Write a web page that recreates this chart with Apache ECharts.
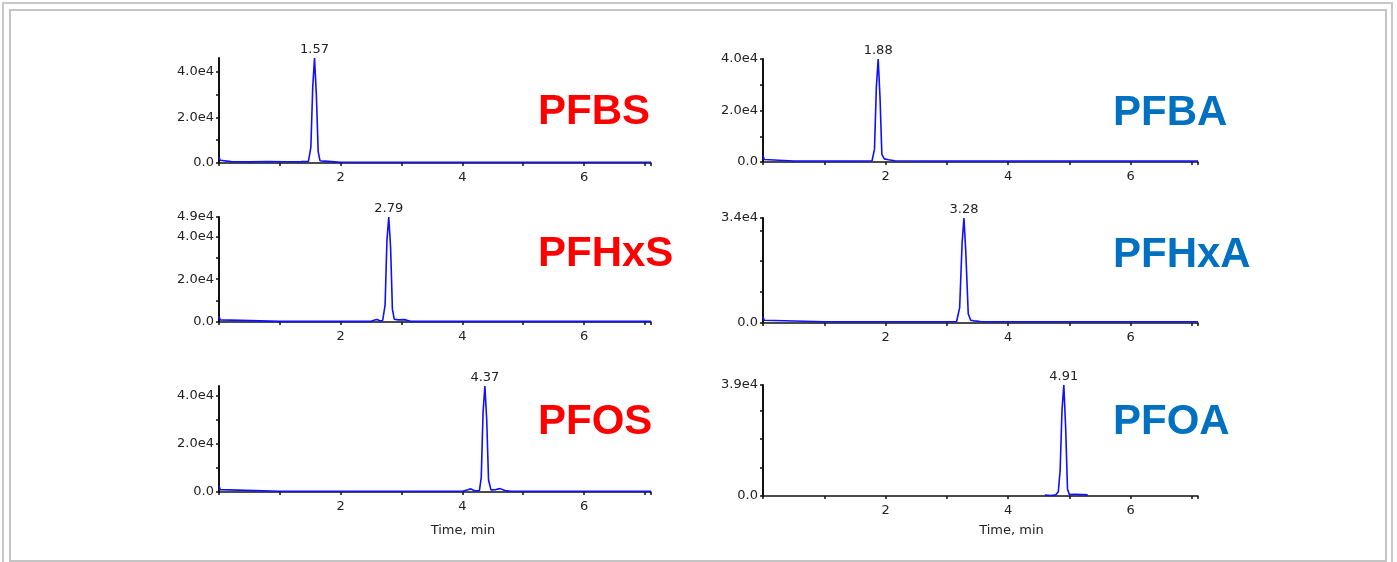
<!DOCTYPE html>
<html>
<head>
<meta charset="utf-8">
<title>PFAS chromatograms</title>
<script src="https://cdn.jsdelivr.net/npm/echarts@6.0.0/dist/echarts.min.js"></script>
<style>
html,body{margin:0;padding:0;background:#fff;}
#main{width:1397px;height:562px;}
</style>
</head>
<body>
<div id="main"></div>
<script>
// compounds, in panel order (left column sulfonates, right column acids)
var names = ['PFBS', 'PFBA', 'PFHxS', 'PFHxA', 'PFOS', 'PFOA'];
var peakRT = [1.57, 1.88, 2.79, 3.28, 4.37, 4.91];

// intensity axes
var yMax = [46000, 40000, 49000, 34000, 44000, 39000];
var yLabels = [
  [0, 20000, 40000],
  [0, 20000, 40000],
  [0, 20000, 40000, 49000],
  [0, 34000],
  [0, 20000, 40000],
  [0, 39000]
];
var yTicks = [
  [0, 10000, 20000, 30000, 40000],
  [0, 10000, 20000, 30000, 40000],
  [0, 10000, 20000, 30000, 40000, 49000],
  [0, 10000, 20000, 30000, 34000],
  [0, 10000, 20000, 30000, 40000],
  [0, 10000, 20000, 30000, 39000]
];

// time axis
var xLabels = [2, 4, 6];
var xMax = 7.1;

// traces: time (min) / intensity (cps)
var pfbsT = [0, 0.02, 0.05, 0.2, 0.5, 0.8, 1.1, 1.35, 1.47, 1.51, 1.54, 1.57, 1.60, 1.63, 1.66, 1.72, 1.80, 1.90, 2.0, 3.0, 4.0, 5.0, 6.0, 7.1];
var pfbsI = [2500, 1200, 700, 600, 500, 650, 550, 600, 700, 7000, 33000, 46000, 30000, 5000, 1000, 800, 700, 500, 300, 300, 300, 300, 300, 300];

var pfbaT = [0, 0.02, 0.05, 0.5, 1.0, 1.5, 1.78, 1.82, 1.85, 1.88, 1.91, 1.94, 1.98, 2.05, 2.15, 3.0, 4.0, 5.0, 6.0, 7.1];
var pfbaI = [2500, 1000, 400, 400, 400, 400, 500, 5000, 29000, 40000, 25000, 3000, 1200, 900, 500, 400, 400, 400, 400, 400];

var pfhxsT = [0, 0.02, 0.05, 1.0, 2.0, 2.5, 2.56, 2.6, 2.64, 2.69, 2.73, 2.76, 2.79, 2.82, 2.85, 2.88, 2.95, 3.05, 3.1, 3.15, 4.0, 5.0, 6.0, 7.1];
var pfhxsI = [2500, 1000, 400, 300, 300, 300, 900, 1200, 600, 700, 8000, 38000, 49000, 35000, 6000, 1300, 1000, 1100, 700, 300, 300, 300, 300, 300];

var pfhxaT = [0, 0.02, 0.05, 1.0, 2.0, 3.0, 3.16, 3.21, 3.25, 3.28, 3.31, 3.35, 3.39, 3.45, 3.55, 3.65, 4.0, 5.0, 6.0, 7.1];
var pfhxaI = [2000, 900, 400, 400, 400, 400, 500, 5000, 26000, 34000, 23000, 3000, 900, 700, 500, 400, 400, 400, 400, 400];

var pfosT = [0, 0.02, 0.05, 1.0, 2.0, 3.0, 4.0, 4.09, 4.14, 4.2, 4.28, 4.31, 4.34, 4.37, 4.40, 4.43, 4.47, 4.55, 4.62, 4.7, 4.8, 5.0, 6.0, 7.1];
var pfosI = [2500, 1000, 400, 300, 300, 300, 300, 900, 1300, 500, 600, 6000, 33000, 44000, 30000, 5000, 900, 1000, 1400, 600, 300, 300, 300, 300];

var pfoaT = [4.6, 4.7, 4.78, 4.82, 4.85, 4.88, 4.91, 4.94, 4.97, 5.0, 5.1, 5.2, 5.3];
var pfoaI = [300, 200, 400, 1500, 9000, 30000, 39000, 24000, 2500, 500, 600, 500, 400];

var traceT = [pfbsT, pfbaT, pfhxsT, pfhxaT, pfosT, pfoaT];
var traceI = [pfbsI, pfbaI, pfhxsI, pfhxaI, pfosI, pfoaI];

// layout of the six panels
var panels = [
  {left: 219, top: 58, width: 432, height: 105, nameX: 538, nameY: 112, color: '#ff0000'},
  {left: 763, top: 59, width: 435, height: 103, nameX: 1113, nameY: 113, color: '#0070c0'},
  {left: 219, top: 217, width: 432, height: 105, nameX: 538, nameY: 254, color: '#ff0000'},
  {left: 763, top: 218, width: 435, height: 105, nameX: 1113, nameY: 255, color: '#0070c0'},
  {left: 219, top: 386, width: 432, height: 106, nameX: 538, nameY: 422, color: '#ff0000'},
  {left: 763, top: 385, width: 435, height: 111, nameX: 1113, nameY: 422, color: '#0070c0'}
];

var txt = '#222';
var ff = 'DejaVu Sans';

function fmtY(v) {
  if (v === 0) return '0.0';
  return (v / 10000).toFixed(1) + 'e4';
}

var grid = [], xAxis = [], yAxis = [], series = [];
var graphic = [
  {type: 'rect', shape: {x: 3, y: 3, width: 1389, height: 640}, style: {fill: 'none', stroke: '#c8c8c8', lineWidth: 2}},
  {type: 'rect', shape: {x: 10, y: 10, width: 1376, height: 551}, style: {fill: 'none', stroke: '#c4c4c4', lineWidth: 2}}
];

panels.forEach(function (p, i) {
  var bottomRow = i >= 4;
  grid.push({left: p.left, top: p.top, width: p.width, height: p.height, containLabel: false});

  xAxis.push({
    gridIndex: i,
    type: 'value',
    min: 0,
    max: xMax,
    interval: 1,
    name: bottomRow ? 'Time, min' : '',
    nameLocation: 'middle',
    nameGap: i === 4 ? 32 : 28,
    nameTextStyle: {color: txt, fontSize: 13, fontFamily: ff, padding: [0, 0, 0, i === 4 ? 56 : 62]},
    axisLine: {show: true, lineStyle: {color: '#111', width: 1.5}},
    axisTick: {show: true, length: 3, lineStyle: {color: '#111', width: 1.5}},
    axisLabel: {
      color: txt, fontSize: 13, fontFamily: ff, margin: 8,
      formatter: function (v) { return xLabels.indexOf(v) >= 0 ? String(v) : ''; }
    },
    splitLine: {show: false}
  });

  yAxis.push({
    gridIndex: i,
    type: 'value',
    min: 0,
    max: yMax[i],
    axisLine: {show: true, lineStyle: {color: '#111', width: 2}},
    axisTick: {show: true, length: 3, customValues: yTicks[i], lineStyle: {color: '#111', width: 1.5}},
    axisLabel: {color: txt, fontSize: 13, fontFamily: ff, margin: 5, customValues: yLabels[i], formatter: fmtY},
    splitLine: {show: false}
  });

  var data = traceT[i].map(function (t, k) {
    var v = traceI[i][k];
    if (t === peakRT[i]) {
      return {
        value: [t, v],
        label: {
          show: true, position: 'top', distance: 2,
          formatter: peakRT[i].toFixed(2),
          color: txt, fontSize: 13, fontFamily: ff
        }
      };
    }
    return [t, v];
  });

  series.push({
    name: names[i],
    type: 'line',
    xAxisIndex: i,
    yAxisIndex: i,
    showSymbol: true,
    showAllSymbol: true,
    symbol: 'circle',
    symbolSize: 0,
    lineStyle: {color: '#1010ff', width: 1.6},
    itemStyle: {color: '#1010ff'},
    label: {show: false},
    silent: true,
    data: data
  });

  graphic.push({
    type: 'text',
    x: p.nameX,
    y: p.nameY,
    style: {
      text: names[i],
      fill: p.color,
      fontSize: 42,
      fontWeight: 'bold',
      fontFamily: 'Liberation Sans',
      verticalAlign: 'middle'
    }
  });
});

var myChart = echarts.init(document.getElementById('main'));
var option = {
  backgroundColor: '#fff',
  animation: false,
  grid: grid,
  xAxis: xAxis,
  yAxis: yAxis,
  series: series,
  graphic: graphic
};
myChart.setOption(option);
window.addEventListener("resize", function () {
  myChart.resize();
});
</script>
</body>
</html>
